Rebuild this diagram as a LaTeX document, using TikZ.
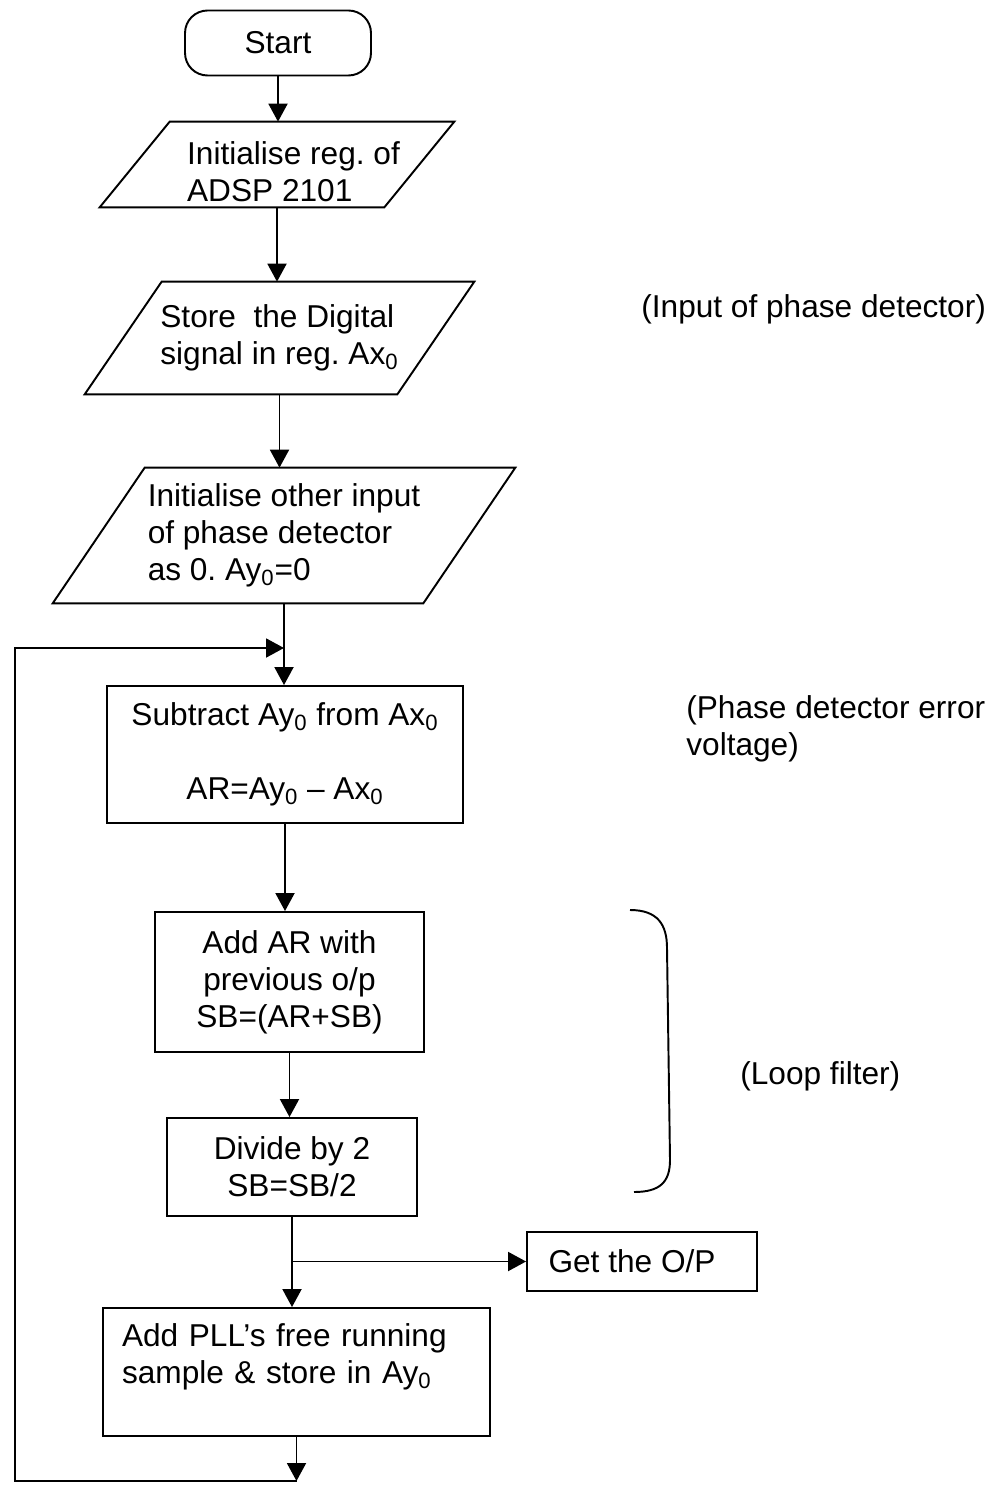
\documentclass[tikz,border=0pt]{standalone}
\usepackage{fontspec}
\setmainfont{Liberation Sans}
\frenchspacing
\usetikzlibrary{arrows.meta}
\tikzset{line/.style = {line width = 1.1pt}}
\tikzset{arr/.style = {line, -{Triangle[length = 0.36cm, width = 0.38cm]}}}
\tikzset{txt/.style = {inner sep = 0, font = \fontsize{18}{21}\selectfont}}
\tikzset{box/.style = {txt, draw, line, align = center}}
\tikzset{io/.style = {txt, align = left}}
\tikzset{note/.style = {txt, align = left, anchor = base west}}

\begin{document}
\begin{tikzpicture}[x = 0.02cm, y = -0.02cm]
  \useasboundingbox (0, 0) rectangle (1002, 1486);
  \node [box, rounded corners = 0.45cm, minimum width = 3.72cm, minimum height = 1.3cm] (start) at (278, 43) {Start};
  \node [io, minimum width = 7.08cm, minimum height = 1.7cm] (init) at (277, 164.5) {\rule{0pt}{0.74cm}\hspace*{0.66cm}Initialise reg. of\\\hspace*{0.66cm}ADSP 2101};
  \node [io, minimum width = 7.78cm, minimum height = 2.24cm] (store) at (279.5, 338) {Store\ \ the Digital\\signal in reg. Ax\textsubscript{0}};
  \node [io, minimum width = 9.24cm, minimum height = 2.7cm] (other) at (284, 535.5) {Initialise other input\\of phase detector\\as 0. Ay\textsubscript{0}=0};
  \node [box, minimum width = 7.12cm, minimum height = 2.74cm] (sub) at (285, 754.5) {Subtract Ay\textsubscript{0} from Ax\textsubscript{0}\\[21pt]AR=Ay\textsubscript{0} -- Ax\textsubscript{0}};
  \node [box, minimum width = 5.38cm, minimum height = 2.8cm] (add) at (289.5, 982) {Add AR with\\previous o/p\\SB=(AR+SB)};
  \node [box, minimum width = 5cm, minimum height = 1.96cm] (div) at (292, 1167) {Divide by 2\\SB=SB/2};
  \node [box, minimum width = 4.6cm, minimum height = 1.18cm] (get) at (642, 1261.5) {Get the O/P\hspace*{0.4cm}};
  \node [box, align = left, text width = 6.98cm, minimum width = 7.74cm, minimum height = 2.56cm] (pll) at (296.5, 1372) {Add PLL's free running\\sample \& store in Ay\textsubscript{0}\\\mbox{}};
  \node [note] (inp) at (641, 318) {(Input of phase detector)};
  \node [note] (err) at (686, 755) {(Phase detector error\\voltage)};
  \node [note] (filt) at (740, 1084) {(Loop filter)};

  \draw [line] (init.south west) -- ([xshift = 1.4cm] init.north west) -- (init.north east) -- ([xshift = -1.4cm] init.south east) -- cycle;
  \draw [line] (store.south west) -- ([xshift = 1.54cm] store.north west) -- (store.north east) -- ([xshift = -1.54cm] store.south east) -- cycle;
  \draw [line] (other.south west) -- ([xshift = 1.84cm] other.north west) -- (other.north east) -- ([xshift = -1.84cm] other.south east) -- cycle;

  \coordinate (lpt) at (15, 648);
  \coordinate (lpb) at (15, 1481);
  \draw [arr] (start.south) -- (start.south |- init.north);
  \draw [arr] (init.south) -- (init.south |- store.north);
  \draw [arr] (store.south) -- (store.south |- other.north);
  \draw [arr] (other.south) -- (other.south |- sub.north);
  \draw [arr] (sub.south) -- (sub.south |- add.north);
  \draw [arr] (add.south) -- (add.south |- div.north);
  \draw [arr] (div.south) -- (div.south |- pll.north);
  \draw [arr] (div.south |- get.west) -- (get.west);
  \draw [arr] (pll.south) -- (pll.south |- lpb);
  \draw [arr] (pll.south |- lpb) -- (lpb) -- (lpt) -- (lpt -| other.south);

  \draw [line] (630, 910) .. controls (658, 910) and (667, 925) .. (667, 948) -- (670, 1160) .. controls (670, 1182) and (660, 1192) .. (634, 1192);
\end{tikzpicture}
\end{document}
